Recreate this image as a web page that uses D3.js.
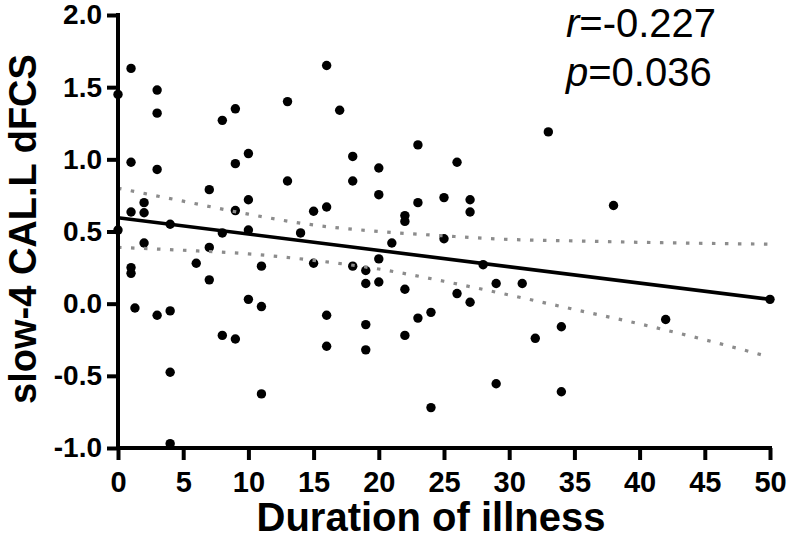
<!DOCTYPE html>
<html>
<head>
<meta charset="utf-8">
<script src="https://cdn.jsdelivr.net/npm/d3@7"></script>
<style>
  html, body { margin: 0; padding: 0; background: #fff; }
  svg { display: block; font-family: "Liberation Sans", Arial, sans-serif; }
</style>
</head>
<body>
<svg id="chart" width="787" height="540"></svg>
<script>
// ---- data ----
const duration = [
  0, 0,
  1, 1, 1, 1, 1, 1.3,
  2, 2, 2,
  3, 3, 3, 3,
  4, 4, 4, 4,
  6,
  7, 7, 7,
  8, 8, 8,
  9, 9, 9, 9,
  10, 10, 10, 10,
  11, 11, 11,
  13, 13,
  14,
  15, 15,
  16, 16, 16, 16,
  17,
  18, 18, 18,
  19, 19, 19, 19,
  20, 20, 20, 20,
  21,
  22, 22, 22, 22,
  23, 23, 23,
  24, 24,
  25, 25,
  26, 26,
  27, 27, 27,
  28,
  29, 29,
  31,
  32,
  33,
  34, 34,
  38,
  42,
  50
];
const dfcs = [
  1.45, 0.51,
  1.63, 0.98, 0.635, 0.25, 0.21, -0.03,
  0.70, 0.63, 0.42,
  1.48, 1.32, 0.93, -0.08,
  0.55, -0.05, -0.475, -0.97,
  0.28,
  0.79, 0.39, 0.165,
  1.27, 0.49, -0.22,
  1.35, 0.97, 0.645, -0.245,
  1.04, 0.72, 0.51, 0.03,
  0.26, -0.02, -0.625,
  1.40, 0.85,
  0.49,
  0.64, 0.28,
  1.65, 0.67, -0.08, -0.295,
  1.34,
  1.02, 0.85, 0.26,
  0.23, 0.14, -0.145, -0.32,
  0.94, 0.755, 0.31, 0.15,
  0.42,
  0.61, 0.57, 0.10, -0.22,
  1.10, 0.70, -0.10,
  -0.06, -0.72,
  0.735, 0.45,
  0.98, 0.07,
  0.72, 0.635, 0.01,
  0.27,
  0.14, -0.555,
  0.14,
  -0.24,
  1.19,
  -0.16, -0.61,
  0.68,
  -0.11,
  0.03
];
// fitted regression line (end points)
const fitX = [0, 50];
const fitY = [0.595, 0.03];
// 95% confidence band
const bandX = [0, 5, 10, 15, 20, 25, 30, 35, 40, 45, 50];
const bandUpper = [0.80, 0.71, 0.62, 0.545, 0.50, 0.47, 0.445, 0.435, 0.425, 0.418, 0.412];
const bandLower = [0.39, 0.37, 0.345, 0.30, 0.24, 0.155, 0.06, -0.04, -0.14, -0.25, -0.37];
// ticks
const xTicks = [0, 5, 10, 15, 20, 25, 30, 35, 40, 45, 50];
const xTickLabels = ["0", "5", "10", "15", "20", "25", "30", "35", "40", "45", "50"];
const yTicks = [-1.0, -0.5, 0.0, 0.5, 1.0, 1.5, 2.0];
const yTickLabels = ["-1.0", "-0.5", "0.0", "0.5", "1.0", "1.5", "2.0"];
const xTitle = "Duration of illness";
const yTitle = "slow-4 CAL.L dFCS";
const statR = "-0.227";
const statP = "0.036";

// ---- drawing ----
const svg = d3.select("#chart");
svg.append("rect").attr("width", 787).attr("height", 540).attr("fill", "#fff");

const x = d3.scaleLinear().domain([0, 50]).range([118, 770]);
const y = d3.scaleLinear().domain([-1, 2]).range([448, 15]);

// points
const pts = duration.map((d, i) => ({ x: d, y: dfcs[i] }));
svg.append("g").selectAll("circle").data(pts).join("circle")
  .attr("cx", d => x(d.x)).attr("cy", d => y(d.y)).attr("r", 4.7)
  .attr("fill", "#000");

// confidence band (dotted)
const bandLine = d3.line().curve(d3.curveMonotoneX).x(d => x(d[0])).y(d => y(d[1]));
[bandUpper, bandLower].forEach(arr => {
  svg.append("path")
    .datum(bandX.map((v, i) => [v, arr[i]]))
    .attr("d", bandLine)
    .attr("fill", "none")
    .attr("stroke", "#8c8c8c")
    .attr("stroke-width", 3.2)
    .attr("stroke-dasharray", "3.5,9.5");
});

// regression line
svg.append("path")
  .datum(fitX.map((v, i) => [v, fitY[i]]))
  .attr("d", d3.line().x(d => x(d[0])).y(d => y(d[1])))
  .attr("fill", "none").attr("stroke", "#000").attr("stroke-width", 3.6);

// axes
const xAxis = d3.axisBottom(x).tickValues(xTicks)
  .tickFormat((d, i) => xTickLabels[i]).tickSize(12).tickPadding(11).tickSizeOuter(0);
const gx = svg.append("g").attr("transform", "translate(0,448)").call(xAxis);
gx.select(".domain").attr("stroke", "#000").attr("stroke-width", 4)
  .attr("d", `M${x(0) - 2},0H${x(50) + 2}`);
gx.selectAll(".tick line").attr("stroke", "#000").attr("stroke-width", 4);
gx.selectAll(".tick text").attr("fill", "#000")
  .style("font-family", "'Liberation Sans', Arial, sans-serif")
  .style("font-size", "29px").style("font-weight", "bold");

const yAxis = d3.axisLeft(y).tickValues(yTicks)
  .tickFormat((d, i) => yTickLabels[i]).tickSize(11).tickPadding(5).tickSizeOuter(0);
const gy = svg.append("g").attr("transform", `translate(${x(0)},0)`).call(yAxis);
gy.select(".domain").attr("stroke", "#000").attr("stroke-width", 4)
  .attr("d", `M0,${y(2) - 2}V${y(-1) + 2}`);
gy.selectAll(".tick line").attr("stroke", "#000").attr("stroke-width", 4);
gy.selectAll(".tick text").attr("fill", "#000")
  .style("font-family", "'Liberation Sans', Arial, sans-serif")
  .style("font-size", "28px").style("font-weight", "bold");

// axis titles
svg.append("text")
  .attr("x", 431).attr("y", 531)
  .attr("text-anchor", "middle")
  .style("font-size", "40px").style("font-weight", "bold")
  .text(xTitle);

svg.append("text")
  .attr("transform", "translate(36,229) rotate(-90)")
  .attr("text-anchor", "middle")
  .style("font-size", "38px").style("font-weight", "bold")
  .text(yTitle);

// statistics annotation
const t1 = svg.append("text").attr("x", 566).attr("y", 37).style("font-size", "40px");
t1.append("tspan").style("font-style", "italic").text("r");
t1.append("tspan").text("=" + statR);
const t2 = svg.append("text").attr("x", 566).attr("y", 86).style("font-size", "40px");
t2.append("tspan").style("font-style", "italic").text("p");
t2.append("tspan").text("=" + statP);
</script>
</body>
</html>
